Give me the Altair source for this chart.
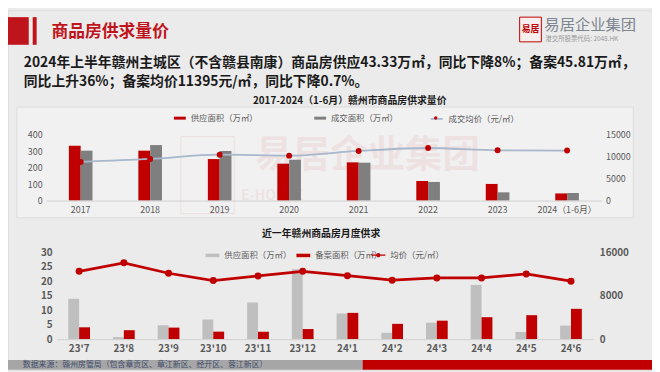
import altair as alt
import pandas as pd

# ---------------- data ----------------
years = ["2017", "2018", "2019", "2020", "2021", "2022", "2023", "2024（1-6月）"]
supply_area = [333, 303, 252, 224, 232, 119, 101, 43.33]
deal_area = [303, 337, 301, 248, 230, 113, 50, 45.81]
deal_price = [8800, 9470, 10450, 10230, 11290, 11970, 11440, 11395]
top_series = ["供应面积（万㎡）", "成交面积（万㎡）"]
top_price_name = "成交均价（元/㎡）"

months = ["23'7", "23'8", "23'9", "23'10", "23'11", "23'12",
          "24'1", "24'2", "24'3", "24'4", "24'5", "24'6"]
month_supply = [14.0, 0.7, 4.8, 6.8, 12.7, 24.2, 8.9, 2.2, 5.7, 18.8, 2.5, 4.7]
month_record = [4.1, 3.1, 4.0, 2.6, 2.6, 3.5, 9.1, 5.3, 6.4, 7.6, 8.3, 10.5]
month_price = [12530, 14100, 12170, 10820, 11680, 12530,
               11730, 10890, 11310, 11310, 12040, 10710]
bottom_series = ["供应面积（万㎡）", "备案面积（万㎡）"]
bottom_price_name = "均价（元/㎡）"

top_left_ticks = [0, 100, 200, 300, 400]
top_right_ticks = [0, 5000, 10000, 15000]
bottom_left_ticks = [0, 5, 10, 15, 20, 25, 30]
bottom_right_ticks = [0, 8000, 16000]

title_text = "商品房供求量价"
summary_1 = "2024年上半年赣州主城区（不含赣县南康）商品房供应43.33万㎡，同比下降8%；备案45.81万㎡，"
summary_2 = "同比上升36%；备案均价11395元/㎡，同比下降0.7%。"
top_title = "2017-2024（1-6月）赣州市商品房供求量价"
bottom_title = "近一年赣州商品房月度供求"
source_text = "数据来源：赣州房管局（包含章贡区、章江新区、经开区、蓉江新区）"
logo_name = "易居企业集团"
logo_code = "港交所股票代码: 2048.HK"

# ---------------- tables ----------------
top_bars_df = pd.DataFrame({
    "year": years * 2,
    "series": [top_series[0]] * len(years) + [top_series[1]] * len(years),
    "value": supply_area + deal_area,
})
top_price_df = pd.DataFrame({"year": years, "price": deal_price,
                             "name": [top_price_name] * len(years)})
bottom_bars_df = pd.DataFrame({
    "month": months * 2,
    "series": [bottom_series[0]] * len(months) + [bottom_series[1]] * len(months),
    "value": month_supply + month_record,
})
bottom_price_df = pd.DataFrame({"month": months, "price": month_price,
                                "name": [bottom_price_name] * len(months)})
one = pd.DataFrame({"k": [0]})

# ---------------- layout / style ----------------
W, H = 652, 364
def px(x): return x - 8
def py(y): return y - 8

FONT = "Noto Sans CJK SC"
RED = "#c00000"
TITLE_RED = "#c0141c"
GRAY_DARK = "#7f7f7f"
GRAY_LIGHT = "#bfbfbf"
LINE_BLUE = "#a7b7cc"
BG = "#ebebeb"
AX = "#595959"
RECT_PATH = "M-1,-0.25H1V0.25H-1Z"
DOT_PATH = "M0,-0.27A0.27,0.27 0 1 1 0,0.27A0.27,0.27 0 1 1 0,-0.27Z"
LINE_DOT_PATH = ("M-1,-0.09H1V0.09H-1Z"
                 "M0,-0.3A0.3,0.3 0 1 1 0,0.3A0.3,0.3 0 1 1 0,-0.3Z")

TOP_X0, TOP_X1, TOP_Y0, TOP_Y1 = 46.4, 609.2, 200.7, 134.0
BOT_X0, BOT_X1, BOT_Y0, BOT_Y1 = 57.4, 600.6, 341.0, 253.3


def xband(domain, x0, x1, inner):
    return alt.Scale(domain=domain, range=[px(x0), px(x1)],
                     paddingInner=inner, paddingOuter=inner / 2)


def label(text, x, y, size, color, weight="normal", align="left", opacity=1.0):
    return alt.Chart(one).mark_text(
        text=text, align=align, baseline="middle", fontSize=size,
        fontWeight=weight, color=color, opacity=opacity,
    ).encode(x=alt.value(px(x)), y=alt.value(py(y)))


def box(x1, y1, x2, y2, fill, stroke=None, opacity=1.0):
    kw = dict(fill=fill, opacity=opacity)
    if stroke:
        kw.update(stroke=stroke, strokeWidth=1)
    return alt.Chart(one).mark_rect(**kw).encode(
        x=alt.value(px(x1)), x2=alt.value(px(x2)),
        y=alt.value(py(y1)), y2=alt.value(py(y2)))


def legend(x, y, path, size=144, **kw):
    return alt.Legend(title=None, orient="none", legendX=px(x), legendY=py(y),
                      direction="horizontal", symbolType=path, symbolSize=size,
                      labelFontSize=8.5, labelColor=AX, labelOffset=5, **kw)


def yaxis(orient, offset, values, size, weight="normal"):
    return alt.Axis(title=None, orient=orient, offset=offset, values=values,
                    format="d", domain=False, ticks=False, tickSize=0,
                    labelPadding=3, grid=False, labelFontSize=size,
                    labelFontWeight=weight, labelColor=AX, zindex=1)


def xaxis(offset, size, weight="normal"):
    return alt.Axis(title=None, orient="bottom", offset=offset, labelAngle=0,
                    domainColor="#d0d0d0", ticks=False, tickSize=0,
                    labelPadding=5, labelFontSize=size, labelFontWeight=weight,
                    labelColor=AX, grid=False, zindex=1)


# ---------------- decoration ----------------
deco = [
    box(0, 15, 29, 43, TITLE_RED),
    box(33, 15, 37, 43, TITLE_RED),
    label(title_text, 52, 30, 17, TITLE_RED, "bold"),
    box(526, 15, 548, 40, "#f7eeee", RED),
    label("易居", 537, 27.5, 9, RED, "bold", "center"),
    label(logo_name, 551, 23, 15.5, "#7d8590"),
    label(logo_code, 552, 37, 6.5, "#9a9a9a"),
    label(summary_1, 24, 61.5, 14.0, "#1a1a1a", "bold"),
    label(summary_2, 24, 80.5, 14.0, "#1a1a1a", "bold"),
    label(top_title, 354, 100, 10, "#1a1a1a", "bold", "center"),
    box(17, 106, 641, 218, "#f1f1f1", "#dcdcdc"),
    box(183, 136, 237, 214, "none", RED, 0.08),
    label("易居企业集团", 372, 156, 38, RED, "bold", "center", 0.06),
    label("E-HOUSE", 244, 196, 14, RED, "bold", "left", 0.06),
    label(bottom_title, 325, 235, 10, "#1a1a1a", "bold", "center"),
    box(0, 362, 367, 372, "#a6a6a6"),
    box(367, 362, 660, 372, RED),
    label(source_text, 23, 367, 8, "#3f4d6b"),
]

# ---------------- top chart ----------------
top_x = xband(years, TOP_X0, TOP_X1, 0.66)
top_price_y = alt.Scale(domain=[0, 15000], range=[py(TOP_Y0), py(TOP_Y1)], nice=False)
top_bars = alt.Chart(top_bars_df).mark_bar().encode(
    x=alt.X("year:N", sort=years, scale=top_x, axis=xaxis(py(TOP_Y0) - H, 9)),
    xOffset=alt.XOffset("series:N", sort=top_series,
                        scale=alt.Scale(domain=top_series)),
    y=alt.Y("value:Q",
            scale=alt.Scale(domain=[0, 400], range=[py(TOP_Y0), py(TOP_Y1)], nice=False),
            axis=yaxis("left", -(px(42.5) + 3), top_left_ticks, 9)),
    color=alt.Color("series:N", sort=top_series,
                    scale=alt.Scale(domain=top_series, range=[RED, GRAY_DARK]),
                    legend=legend(176, 111, RECT_PATH, symbolStrokeWidth=0,
                                  columnPadding=56)),
)
top_line = alt.Chart(top_price_df).mark_line(strokeWidth=1.8, interpolate="monotone").encode(
    x=alt.X("year:N", sort=years, scale=top_x, axis=None),
    y=alt.Y("price:Q", scale=top_price_y,
            axis=yaxis("right", px(613) - 3 - W, top_right_ticks, 9)),
    color=alt.Color("name:N", scale=alt.Scale(domain=[top_price_name], range=[LINE_BLUE]),
                    legend=legend(435, 111, "stroke", symbolStrokeWidth=1.8)),
)
top_dots = alt.Chart(top_price_df).mark_circle(size=36, opacity=1).encode(
    x=alt.X("year:N", sort=years, scale=top_x, axis=None),
    y=alt.Y("price:Q", scale=top_price_y, axis=None),
    color=alt.Color("name:N", scale=alt.Scale(domain=[top_price_name], range=[RED]),
                    legend=legend(435, 111, DOT_PATH, symbolStrokeWidth=0,
                                  labelExpr="''")),
)

# ---------------- bottom chart ----------------
bot_x = xband(months, BOT_X0, BOT_X1, 0.514)
bot_price_y = alt.Scale(domain=[0, 16000], range=[py(BOT_Y0), py(BOT_Y1)], nice=False)
bottom_bars = alt.Chart(bottom_bars_df).mark_bar().encode(
    x=alt.X("month:N", sort=months, scale=bot_x,
            axis=xaxis(py(BOT_Y0) - H, 10, "bold")),
    xOffset=alt.XOffset("series:N", sort=bottom_series,
                        scale=alt.Scale(domain=bottom_series)),
    y=alt.Y("value:Q",
            scale=alt.Scale(domain=[0, 30], range=[py(BOT_Y0), py(BOT_Y1)], nice=False),
            axis=yaxis("left", -(px(52.7) + 3), bottom_left_ticks, 10, "bold")),
    color=alt.Color("series:N", sort=bottom_series,
                    scale=alt.Scale(domain=bottom_series, range=[GRAY_LIGHT, RED]),
                    legend=legend(208, 249, RECT_PATH, size=196, symbolStrokeWidth=0,
                                  columnPadding=4)),
)
bottom_line = alt.Chart(bottom_price_df).mark_line(strokeWidth=2.8, color=RED).encode(
    x=alt.X("month:N", sort=months, scale=bot_x, axis=None),
    y=alt.Y("price:Q", scale=bot_price_y,
            axis=yaxis("right", px(606.7) - 3 - W, bottom_right_ticks, 10, "bold")),
)
bottom_dots = alt.Chart(bottom_price_df).mark_circle(size=50, opacity=1).encode(
    x=alt.X("month:N", sort=months, scale=bot_x, axis=None),
    y=alt.Y("price:Q", scale=bot_price_y, axis=None),
    color=alt.Color("name:N", scale=alt.Scale(domain=[bottom_price_name], range=[RED]),
                    legend=legend(376, 249, LINE_DOT_PATH, size=196, symbolStrokeWidth=0)),
)

chart = alt.layer(
    *deco, top_bars, top_line, top_dots, bottom_bars, bottom_line, bottom_dots
).resolve_scale(
    x="independent", y="independent", color="independent", xOffset="independent"
).properties(
    width=W, height=H, padding=0,
    autosize=alt.AutoSizeParams(type="none"), background=BG,
).configure_view(stroke=None).configure(font=FONT)

chart.save("out.html", embed_options={"renderer": "svg", "actions": False})
